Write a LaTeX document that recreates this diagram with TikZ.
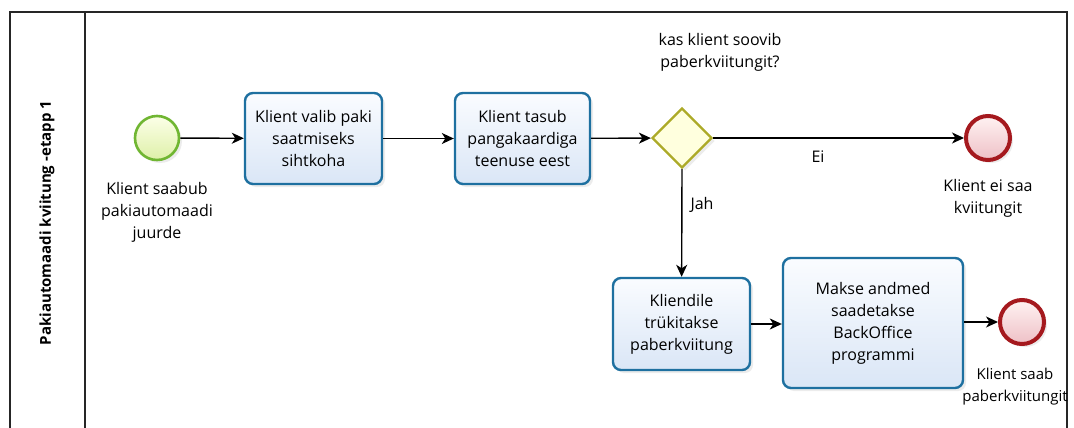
\documentclass[tikz,border=0pt]{standalone}
\usepackage{fontspec}
\setmainfont{Open Sans}
\usetikzlibrary{arrows.meta,shapes.geometric,shadows}

\definecolor{taskblue}{RGB}{30,112,160}
\definecolor{tasktop}{RGB}{250,252,255}
\definecolor{taskbot}{RGB}{218,230,246}
\definecolor{startgreen}{RGB}{112,182,50}
\definecolor{starttop}{RGB}{252,255,232}
\definecolor{startbot}{RGB}{222,240,168}
\definecolor{gwolive}{RGB}{172,170,40}
\definecolor{gwfill}{RGB}{255,255,222}
\definecolor{endred}{RGB}{165,25,30}
\definecolor{endtop}{RGB}{255,242,242}
\definecolor{endbot}{RGB}{238,192,198}

\begin{document}
\begin{tikzpicture}[x=1pt,y=-1pt,
  lbl/.style={align=center, font=\fontsize{16}{22}\selectfont},
  task/.style={lbl, draw=taskblue, line width=2.4pt, rounded corners=8pt,
    top color=tasktop, bottom color=taskbot, inner sep=2pt,
    drop shadow={opacity=0.15, shadow xshift=3pt, shadow yshift=-3pt}},
  startev/.style={circle, draw=startgreen, line width=2.6pt, minimum size=44pt,
    top color=starttop, bottom color=startbot,
    drop shadow={opacity=0.15, shadow xshift=3pt, shadow yshift=-3pt}},
  endev/.style={circle, draw=endred, line width=4pt, minimum size=44pt,
    top color=endtop, bottom color=endbot,
    drop shadow={opacity=0.15, shadow xshift=3pt, shadow yshift=-3pt}},
  gateway/.style={diamond, draw=gwolive, line width=2.4pt, fill=gwfill,
    minimum width=60pt, minimum height=60pt, inner sep=0pt,
    drop shadow={opacity=0.15, shadow xshift=3pt, shadow yshift=-3pt}},
  flow/.style={line width=1.4pt, -{Stealth[length=12pt,width=11pt,inset=3.5pt]}}]
\useasboundingbox (0,0) rectangle (1074,428);
\clip (0,0) rectangle (1074,428);

% lane
\draw[line width=1.4pt, black!85] (10,12) rectangle (1067,440);
\draw[line width=1.4pt, black!85] (85,12) -- (85,440);
\node[rotate=90, font=\fontsize{15}{17}\selectfont\bfseries] (lane) at (47,223) {Pakiautomaadi kviitung -etapp 1};

% events, tasks, gateway
\node[startev] (start) at (157,138) {};
\node[task, minimum width=137pt, minimum height=91pt] (valib) at (313.5,138.5) {Klient valib paki\\saatmiseks\\sihtkoha};
\node[task, minimum width=135pt, minimum height=91pt] (tasub) at (522.5,138.5) {Klient tasub\\pangakaardiga\\teenuse eest};
\node[gateway] (gw) at (682,138) {};
\node[endev] (noend) at (988,138) {};
\node[task, minimum width=137pt, minimum height=92pt] (trukk) at (681.5,324) {Kliendile\\trükitakse\\paberkviitung};
\node[task, minimum width=180pt, minimum height=130pt] (makse) at (873,323) {Makse andmed\\saadetakse\\BackOffice\\programmi};
\node[endev] (yesend) at (1022,322) {};

% labels
\node[lbl] (startlbl) at (157,212) {Klient saabub\\pakiautomaadi\\juurde};
\node[lbl] (gwlbl) at (720,52) {kas klient soovib\\paberkviitungit?};
\node[lbl] (nolbl) at (988,198) {Klient ei saa\\kviitungit};
\node[lbl] (ei) at (818,157) {Ei};
\node[lbl] (jah) at (702,205) {Jah};
\node[lbl, font=\fontsize{15}{22}\selectfont] (yeslbl) at (1015,387) {Klient saab\\paberkviitungit};

% flows
\draw[flow] (start) -- (valib);
\draw[flow] (valib) -- (tasub);
\draw[flow] (tasub) -- (gw);
\draw[flow] (gw.east) -- (noend);
\draw[flow] (gw.south) -- (trukk);
\draw[flow] (trukk.east) -- (trukk.east -| makse.west);
\draw[flow] (makse.east |- yesend) -- (yesend);

\end{tikzpicture}
\end{document}
